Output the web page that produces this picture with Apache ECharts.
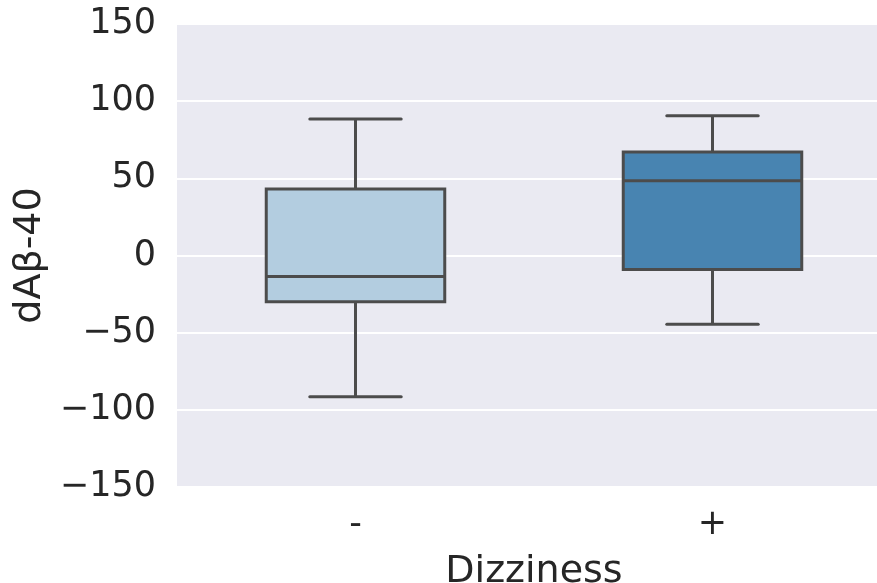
<!DOCTYPE html>
<html>
<head>
<meta charset="utf-8">
<script src="https://cdn.jsdelivr.net/npm/echarts@6/dist/echarts.min.js"></script>
<style>
html,body{margin:0;padding:0;background:#fff;}
#chart{width:877px;height:583px;}
</style>
</head>
<body>
<div id="chart"></div>
<script>
const categories = ['-', '+'];
const lowerWhisker = [-91.6, -44.5];
const q1Values = [-30.0, -9.1];
const medianValues = [-13.6, 48.4];
const q3Values = [43.1, 67.0];
const upperWhisker = [88.5, 90.6];
const yTicks = [-150, -100, -50, 0, 50, 100, 150];
const fillColors = ['#b3cde0', '#4884b1'];

const edge = '#4c4c4c';
const data = categories.map((c, i) => [i, lowerWhisker[i], q1Values[i], medianValues[i], q3Values[i], upperWhisker[i]]);

const chart = echarts.init(document.getElementById('chart'), null, {renderer: 'canvas'});
chart.setOption({
  animation: false,
  backgroundColor: '#ffffff',
  grid: {left: 177, top: 24, width: 714, height: 463, show: true, backgroundColor: '#eaeaf2', borderWidth: 0,
         containLabel: false, outerBoundsMode: 'none'},
  xAxis: {
    type: 'category',
    data: categories,
    boundaryGap: true,
    axisLine: {show: false},
    axisTick: {show: false},
    axisLabel: {color: '#262626', fontSize: 35, fontFamily: 'DejaVu Sans', margin: 20},
    name: 'Dizziness',
    nameLocation: 'middle',
    nameGap: 66,
    nameTextStyle: {color: '#262626', fontSize: 38, fontFamily: 'DejaVu Sans'}
  },
  yAxis: {
    type: 'value',
    min: yTicks[0],
    max: yTicks[yTicks.length - 1],
    interval: 50,
    axisLine: {show: false},
    axisTick: {show: false},
    splitLine: {show: true, lineStyle: {color: '#ffffff', width: 2}},
    axisLabel: {
      color: '#262626', fontSize: 35, fontFamily: 'DejaVu Sans', margin: 21,
      formatter: v => String(v).replace('-', '\u2212')
    },
    name: 'dAβ-40',
    nameLocation: 'middle',
    nameGap: 126,
    nameRotate: 90,
    nameTextStyle: {color: '#262626', fontSize: 38, fontFamily: 'DejaVu Sans'}
  },
  series: [{
    type: 'custom',
    data: data,
    encode: {x: 0, y: [1, 2, 3, 4, 5]},
    renderItem: function (params, api) {
      const idx = api.value(0);
      const band = api.size([1, 0])[0];
      const hw = band * 0.25;
      const cw = band * 0.128;
      const pLo = api.coord([idx, api.value(1)]);
      const pQ1 = api.coord([idx, api.value(2)]);
      const pMed = api.coord([idx, api.value(3)]);
      const pQ3 = api.coord([idx, api.value(4)]);
      const pHi = api.coord([idx, api.value(5)]);
      const x = pLo[0];
      const ls = {stroke: edge, lineWidth: 3};
      return {
        type: 'group',
        children: [
          {type: 'line', shape: {x1: x, y1: pHi[1], x2: x, y2: pQ3[1]}, style: ls},
          {type: 'line', shape: {x1: x, y1: pQ1[1], x2: x, y2: pLo[1]}, style: ls},
          {type: 'line', shape: {x1: x - cw, y1: pHi[1], x2: x + cw, y2: pHi[1]}, style: Object.assign({lineCap: 'round'}, ls)},
          {type: 'line', shape: {x1: x - cw, y1: pLo[1], x2: x + cw, y2: pLo[1]}, style: Object.assign({lineCap: 'round'}, ls)},
          {type: 'rect', shape: {x: x - hw, y: pQ3[1], width: 2 * hw, height: pQ1[1] - pQ3[1]},
            style: {fill: fillColors[idx], stroke: edge, lineWidth: 3}},
          {type: 'line', shape: {x1: x - hw, y1: pMed[1], x2: x + hw, y2: pMed[1]}, style: ls}
        ]
      };
    }
  }]
});
</script>
</body>
</html>
